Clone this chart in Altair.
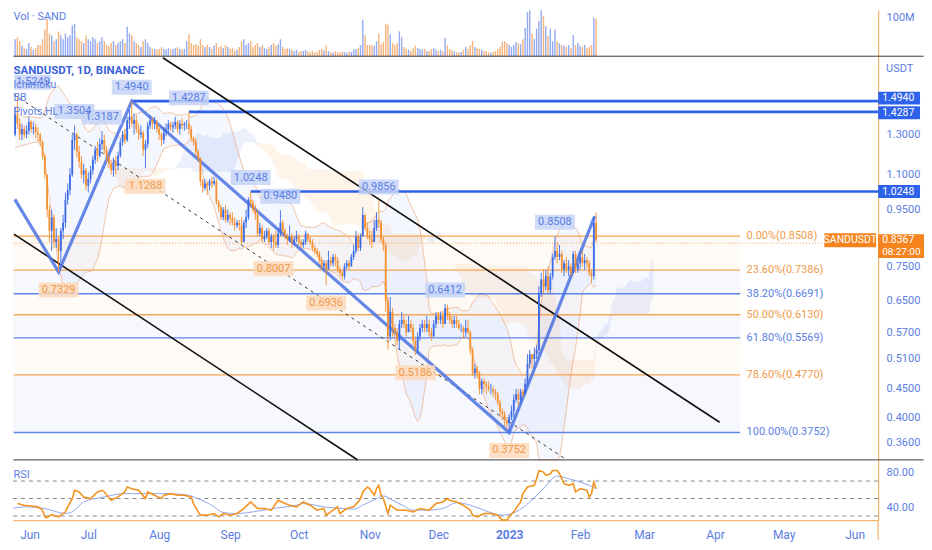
import altair as alt
import numpy as np
import pandas as pd

# ---------------- data ----------------
START = pd.Timestamp("2022-05-26")
FIRST_OPEN = 1.30

closes = [1.27,1.30,1.33,1.30,1.41,1.36,1.30,1.33,1.30,1.32,
 1.37,1.33,1.34,1.31,1.30,1.26,1.19,1.10,0.95,0.87,
 0.92,0.83,0.84,0.80,0.87,0.90,0.99,1.03,1.10,1.27,
 1.30,1.21,1.16,1.10,1.12,1.05,1.08,1.12,1.17,1.22,
 1.19,1.25,1.27,1.22,1.18,1.15,1.12,1.16,1.14,1.19,
 1.26,1.30,1.27,1.38,1.40,1.36,1.38,1.33,1.30,1.31,
 1.22,1.25,1.35,1.38,1.36,1.37,1.33,1.30,1.27,1.31,
 1.33,1.36,1.34,1.35,1.37,1.33,1.36,1.35,1.36,1.36,
 1.33,1.28,1.26,1.21,1.18,1.07,1.04,1.06,1.05,1.07,
 1.06,1.07,0.98,0.96,0.92,0.95,0.91,0.93,0.92,0.90,
 0.89,0.90,0.89,0.83,0.90,0.92,0.99,0.98,0.95,0.93,
 0.86,0.88,0.84,0.85,0.87,0.83,0.85,0.83,0.82,0.86,
 0.90,0.87,0.85,0.84,0.85,0.83,0.84,0.85,0.83,0.82,
 0.83,0.86,0.84,0.83,0.81,0.80,0.79,0.77,0.75,0.76,
 0.74,0.77,0.76,0.78,0.77,0.74,0.73,0.72,0.75,0.76,
 0.75,0.78,0.80,0.85,0.81,0.85,0.93,0.88,0.85,0.84,
 0.83,0.88,0.91,0.90,0.84,0.82,0.65,0.56,0.62,0.58,
 0.57,0.55,0.59,0.60,0.59,0.57,0.59,0.58,0.55,0.53,
 0.56,0.58,0.59,0.58,0.59,0.57,0.56,0.59,0.61,0.60,
 0.61,0.59,0.63,0.61,0.60,0.59,0.60,0.59,0.58,0.58,
 0.57,0.58,0.57,0.53,0.48,0.49,0.48,0.45,0.465,0.46,
 0.455,0.45,0.45,0.445,0.44,0.425,0.41,0.405,0.395,0.39,
 0.40,0.41,0.43,0.44,0.43,0.445,0.44,0.46,0.50,0.52,
 0.51,0.52,0.53,0.67,0.71,0.69,0.72,0.68,0.72,0.78,
 0.80,0.78,0.79,0.74,0.76,0.74,0.75,0.73,0.79,0.74,
 0.76,0.78,0.76,0.77,0.76,0.73,0.72,0.90,0.8367]

highs = [1.31,1.33,1.36,1.38,1.46,1.5249,1.39,1.36,1.35,1.35,
 1.40,1.38,1.37,1.36,1.34,1.31,1.27,1.20,1.10,0.97,
 0.95,0.93,0.88,0.85,0.88,0.93,1.02,1.06,1.13,1.30,
 1.3504,1.31,1.24,1.19,1.15,1.13,1.11,1.14,1.19,1.24,
 1.26,1.28,1.3187,1.30,1.24,1.19,1.17,1.18,1.19,1.21,
 1.28,1.32,1.33,1.40,1.44,1.494,1.42,1.41,1.36,1.35,
 1.32,1.27,1.37,1.41,1.40,1.40,1.38,1.35,1.31,1.34,
 1.36,1.38,1.37,1.37,1.40,1.38,1.38,1.39,1.37,1.38,
 1.4287,1.35,1.29,1.28,1.22,1.18,1.08,1.08,1.07,1.08,
 1.09,1.09,1.08,0.99,0.97,0.96,0.97,0.95,0.94,0.94,
 0.92,0.91,0.91,0.92,0.91,0.95,1.00,1.0248,0.99,0.97,
 0.95,0.90,0.89,0.87,0.88,0.88,0.86,0.86,0.87,0.88,
 0.948,0.91,0.88,0.86,0.89,0.86,0.85,0.87,0.86,0.84,
 0.84,0.87,0.86,0.85,0.84,0.82,0.81,0.80,0.78,0.77,
 0.77,0.80,0.78,0.79,0.79,0.78,0.75,0.74,0.76,0.77,
 0.77,0.79,0.82,0.87,0.86,0.86,0.96,0.93,0.90,0.87,
 0.87,0.91,0.94,0.9856,0.91,0.85,0.83,0.66,0.66,0.63,
 0.59,0.58,0.60,0.62,0.61,0.60,0.61,0.60,0.59,0.56,
 0.57,0.59,0.60,0.60,0.61,0.60,0.58,0.60,0.62,0.62,
 0.62,0.62,0.6412,0.64,0.62,0.61,0.61,0.61,0.60,0.59,
 0.585,0.60,0.60,0.575,0.535,0.50,0.495,0.485,0.47,0.47,
 0.465,0.465,0.46,0.455,0.45,0.445,0.43,0.415,0.41,0.40,
 0.405,0.42,0.44,0.45,0.45,0.45,0.45,0.47,0.52,0.53,
 0.52,0.535,0.54,0.69,0.73,0.74,0.74,0.75,0.73,0.79,
 0.8508,0.83,0.82,0.80,0.77,0.78,0.77,0.76,0.80,0.80,
 0.77,0.80,0.80,0.79,0.78,0.77,0.74,0.92,0.94]

lows = [1.22,1.24,1.28,1.27,1.29,1.33,1.27,1.27,1.28,1.28,
 1.30,1.31,1.30,1.28,1.26,1.24,1.17,1.08,0.92,0.83,
 0.80,0.81,0.81,0.7329,0.76,0.84,0.88,0.97,1.01,1.09,
 1.22,1.18,1.13,1.08,1.06,1.03,1.02,1.06,1.10,1.15,
 1.16,1.18,1.22,1.20,1.16,1.13,1.10,1.09,1.10,1.12,
 1.18,1.24,1.25,1.26,1.33,1.34,1.30,1.31,1.27,1.28,
 1.19,1.1288,1.23,1.33,1.33,1.33,1.31,1.27,1.24,1.25,
 1.29,1.31,1.32,1.31,1.33,1.31,1.30,1.33,1.32,1.33,
 1.30,1.26,1.24,1.19,1.16,1.05,1.02,1.03,1.01,1.03,
 1.04,1.05,0.97,0.94,0.91,0.91,0.90,0.90,0.89,0.89,
 0.87,0.88,0.87,0.82,0.83,0.88,0.91,0.96,0.94,0.91,
 0.85,0.85,0.83,0.83,0.84,0.82,0.81,0.8007,0.81,0.81,
 0.85,0.86,0.84,0.82,0.83,0.81,0.82,0.83,0.82,0.81,
 0.81,0.82,0.83,0.82,0.80,0.79,0.78,0.76,0.74,0.74,
 0.6936,0.76,0.75,0.75,0.75,0.73,0.72,0.71,0.71,0.74,
 0.74,0.75,0.77,0.79,0.80,0.80,0.85,0.87,0.84,0.82,
 0.81,0.83,0.87,0.88,0.83,0.80,0.62,0.53,0.55,0.56,
 0.56,0.54,0.53,0.58,0.58,0.56,0.57,0.57,0.54,0.5186,
 0.52,0.55,0.57,0.57,0.57,0.56,0.55,0.56,0.58,0.59,
 0.59,0.58,0.59,0.60,0.59,0.58,0.58,0.58,0.575,0.57,
 0.555,0.56,0.565,0.52,0.475,0.47,0.47,0.44,0.44,0.445,
 0.44,0.445,0.44,0.435,0.43,0.42,0.40,0.395,0.385,0.38,
 0.3752,0.395,0.40,0.425,0.42,0.425,0.435,0.44,0.455,0.49,
 0.49,0.49,0.51,0.52,0.66,0.67,0.68,0.67,0.67,0.71,
 0.77,0.76,0.77,0.73,0.72,0.73,0.72,0.72,0.73,0.73,
 0.73,0.74,0.75,0.74,0.745,0.72,0.70,0.71,0.83]

volumes_m = [110,30,35,25,45,50,40,28,22,20,
 35,25,18,22,30,30,45,70,97,60,
 55,40,45,65,55,45,60,50,55,80,
 84,50,45,40,35,55,45,40,50,45,
 35,40,50,40,30,28,35,40,30,35,
 40,45,35,77,60,55,40,35,30,25,
 40,45,35,25,20,20,18,20,25,20,
 18,22,18,20,22,25,20,18,20,40,
 58,35,30,32,28,45,30,25,30,25,
 20,28,35,25,28,22,30,25,20,22,
 15,18,25,40,45,30,35,40,25,30,
 35,25,30,22,20,25,30,35,28,32,
 45,25,20,22,20,18,15,18,12,14,
 15,18,14,12,15,10,12,18,20,16,
 28,15,12,10,14,12,10,14,12,10,
 14,12,18,20,22,30,95,55,30,30,
 30,28,40,60,32,38,85,82,58,35,
 30,35,65,50,25,20,18,15,22,28,
 22,20,18,20,15,14,20,22,18,15,
 18,14,48,30,20,16,14,12,10,12,
 18,25,20,30,40,25,22,20,18,15,
 14,12,10,12,15,20,25,38,40,35,
 30,25,30,38,35,32,45,74,115,120,
 60,46,72,92,125,105,79,54,72,40,
 70,40,35,30,28,25,30,22,55,30,
 35,28,25,30,22,25,30,100,97]

rsi_k = [0,3,5,8,11,14,16,17,18,20,23,26,27,29,30,32,34,37,40,42,
 43,46,49,52,53,55,58,61,62,65,68,69,72,75,78,81,82,84,85,88,
 91,93,95,98,101,104,107,110,113,116,119,122,124,127,130,133,136,139,140,142,
 145,146,149,152,154,155,156,158,159,161,162,163,164,165,167,168,171,175,178,181,
 185,188,191,193,194,197,200,203,204,206,209,212,215,217,219,220,222,223,225,226,
 228,231,232,233,235,236,238,239,241,242,244,246,248,249,251,254,255,256,257,258]
rsi_v = [38.5,43.4,44.2,42.3,41.5,40.4,36.6,29.0,28.2,31.6,29.0,34.7,40.4,49.9,59.4,57.5,51.8,49.9,57.5,59.4,
 57.5,48.0,51.8,57.5,63.2,61.3,59.4,49.9,57.5,53.7,49.9,53.7,55.6,53.7,53.7,51.8,44.2,34.7,30.9,30.9,
 32.8,29.0,32.8,30.9,32.8,38.5,46.1,38.5,38.5,36.6,48.0,44.2,42.3,40.4,46.1,42.3,36.6,38.5,30.9,34.7,
 40.4,32.8,38.5,40.4,46.1,49.9,57.5,63.2,61.3,53.7,61.3,65.1,53.7,49.9,32.8,42.3,36.6,36.6,34.7,38.5,
 36.6,44.2,46.1,49.9,48.0,46.1,42.3,36.6,30.9,29.0,32.8,32.8,30.9,25.2,25.2,29.0,34.7,38.5,46.1,55.6,
 63.2,65.1,72.7,82.2,80.3,76.5,78.4,82.2,82.2,78.4,67.0,65.1,67.0,57.5,61.3,59.4,51.8,55.6,68.9,61.3]
rsi_ma_k = [0,8,17,26,29,34,43,52,61,69,78,84,90,95,101,110,119,127,130,139,
 148,152,156,162,165,169,174,178,183,191,197,203,209,217,223,229,235,241,246,255,258]
rsi_ma_v = [36.6,40.4,38.5,32.8,34.7,46.1,51.8,55.6,55.6,55.6,54.5,49.9,42.3,33.9,32.8,35.5,39.3,42.3,44.2,40.4,
 38.5,37.7,42.3,49.9,53.0,48.0,41.5,36.6,36.6,38.5,45.3,42.3,36.6,30.9,34.7,46.1,61.3,75.7,72.7,65.1,61.3]
rsi_levels = [70, 50, 30]
rsi_ticks = [80, 40]

pivot_high_k = [5, 30, 42, 55, 80, 107, 120, 163, 192, 240]
pivot_high_p = [1.5249, 1.3504, 1.3187, 1.4940, 1.4287, 1.0248, 0.9480, 0.9856, 0.6412, 0.8508]
pivot_low_k = [23, 61, 117, 140, 179, 220]
pivot_low_p = [0.7329, 1.1288, 0.8007, 0.6936, 0.5186, 0.3752]

level_k = [55, 80, 107]
level_p = [1.4940, 1.4287, 1.0248]
level_tag_shift = [-3, 1, 0]

fib_pct = ["0.00%", "23.60%", "38.20%", "50.00%", "61.80%", "78.60%", "100.00%"]
fib_price = [0.8508, 0.7386, 0.6691, 0.6130, 0.5569, 0.4770, 0.3752]
fib_kind = ["o", "o", "b", "o", "b", "o", "b"]
fib_start_k = 3.4
fib_end_k = 321.0
fib_label_k = 323.8

zigzag_k = [3.9, 23, 55, 220, 257.4]
zigzag_p = [0.9919, 0.7329, 1.4940, 0.3752, 0.925]
chan_upper_k = [68.6, 312.0]
chan_upper_p = [1.79, 0.3916]
chan_lower_k = [3.5, 153.8]
chan_lower_p = [0.8583, 0.3345]
chan_mid_k = [3.5, 245.3]
chan_mid_p = [1.5354, 0.3345]

price_ticks = [1.3, 1.1, 0.95, 0.75, 0.65, 0.57, 0.51, 0.45, 0.40, 0.36]
last_price = 0.8367
countdown = "08:27:00"
x_range_k = [3.08, 381.3]
price_domain = [0.334, 1.798]
vol_domain = [0, 120.5]
rsi_domain = [25.13, 93.7]

# ---------------- style ----------------
W = 868
HV, HP, HR = 47, 405, 60
RIGHT = 46
FONT = "Roboto"
UP, DOWN = "#3b6ae6", "#f39030"
UP_V, DOWN_V = "#92aaf2", "#f6b27a"
FIB_O, FIB_B = "#f4a557", "#5f85e8"
TXT_B, TXT_O = "#5a7de3", "#ef9a4a"
TAG_B, TAG_O = "#2f62ea", "#f5841f"
AXIS_O = "#f6a34c"


def kd(k):
    return (START + pd.to_timedelta(np.asarray(k, dtype=float), unit="D")).round("s")


def rect_path(w, h, left=False):
    r = h / w
    if left:
        return f"M0,{-r:.4f}L2,{-r:.4f}L2,{r:.4f}L0,{r:.4f}Z"
    return f"M-1,{-r:.4f}L1,{-r:.4f}L1,{r:.4f}L-1,{r:.4f}Z"


def dt(ts):
    return alt.DateTime(year=ts.year, month=ts.month, date=ts.day,
                        hours=ts.hour, minutes=ts.minute, seconds=ts.second)


n = len(closes)
opens = [FIRST_OPEN] + closes[:-1]
df = pd.DataFrame({"date": kd(np.arange(n)), "open": opens, "close": closes,
                   "high": highs, "low": lows, "vol": volumes_m})
df["high"] = df[["high", "open", "close"]].max(axis=1)
df["low"] = df[["low", "open", "close"]].min(axis=1)
df["c"] = np.where(df["close"] >= df["open"], UP, DOWN)
df["cv"] = np.where(df["close"] >= df["open"], UP_V, DOWN_V)
df["vdraw"] = np.minimum(df["vol"], vol_domain[1] - 1)
x_lo, x_hi = kd(x_range_k)
cdf = df[df["date"] >= x_lo]          # candles inside the visible window

x_scale = alt.Scale(domain=[dt(x_lo), dt(x_hi)])
p_scale = alt.Scale(type="log", domain=price_domain, nice=False, zero=False)
v_scale = alt.Scale(domain=vol_domain, nice=False, zero=True)
r_scale = alt.Scale(domain=rsi_domain, nice=False, zero=False)

price_axis = alt.Axis(orient="right", values=price_ticks, format=".4f", title=None,
                      ticks=False, grid=False, domainColor=AXIS_O, labelColor=TXT_B,
                      labelFontSize=11, labelFont=FONT, labelPadding=8, labelOverlap=False)
vol_axis = alt.Axis(orient="right", values=[100], labelExpr="datum.value + 'M'", title=None,
                    ticks=False, grid=False, domainColor=AXIS_O, labelColor=TXT_B,
                    labelFontSize=11, labelFont=FONT, labelPadding=8)
rsi_axis = alt.Axis(orient="right", values=rsi_ticks, format=".2f", title=None, ticks=False,
                    grid=False, domainColor=AXIS_O, labelColor=TXT_B, labelFontSize=11,
                    labelFont=FONT, labelPadding=8)
FIRST_TICK = "year(datum.value) == 2022 && month(datum.value) == 5"
x_axis = alt.Axis(orient="bottom", tickCount={"interval": "month", "step": 1},
                  labelExpr="month(datum.value) == 0 ? timeFormat(datum.value, '%Y') : timeFormat(datum.value, '%b')",
                  labelFontWeight={"condition": {"test": "month(datum.value) == 0", "value": "bold"},
                                   "value": "normal"},
                  labelAlign={"condition": {"test": FIRST_TICK, "value": "left"}, "value": "center"},
                  ticks=False, grid=False, domainColor=AXIS_O, labelColor=TXT_B, labelFontSize=12,
                  labelFont=FONT, labelPadding=9, title=None, labelOverlap=False, labelFlush=False)


def X(f, axis=None):
    return alt.X(f, type="temporal", scale=x_scale, axis=axis)


def Y(f):
    return alt.Y(f, type="quantitative", scale=p_scale, axis=price_axis)


# ---------------- indicators derived from the candles ----------------
hi_s, lo_s = df["high"], df["low"]
conv = (hi_s.rolling(9, min_periods=1).max() + lo_s.rolling(9, min_periods=1).min()) / 2
basel = (hi_s.rolling(26, min_periods=1).max() + lo_s.rolling(26, min_periods=1).min()) / 2
span_a = (conv + basel) / 2
span_b = (hi_s.rolling(52, min_periods=1).max() + lo_s.rolling(52, min_periods=1).min()) / 2
cloud = pd.DataFrame({"date": kd(np.arange(n) + 25), "a": span_a.values, "b": span_b.values})
cloud["a2"] = np.where(cloud["a"] >= cloud["b"], cloud["b"], cloud["a"])
cloud["b2"] = np.where(cloud["b"] > cloud["a"], cloud["a"], cloud["b"])

lo_lim, hi_lim = price_domain[0] * 1.002, price_domain[1] * 0.995
mid = df["close"].rolling(20, min_periods=1).mean()
sd = df["close"].rolling(20, min_periods=1).std(ddof=0).fillna(0)
bb = pd.DataFrame({"date": df["date"],
                   "up": np.clip(mid + 2 * sd, lo_lim, hi_lim),
                   "lo": np.clip(mid - 2 * sd, lo_lim, hi_lim)})
bb = bb[bb["date"] >= x_lo]

# ---------------- tables for annotations ----------------
fib_start = kd([fib_start_k])[0]
fib_end = kd([fib_end_k])[0]
fib_lab = kd([fib_label_k])[0]
fib_df = pd.DataFrame({
    "start": [fib_start] * len(fib_price), "end": [fib_end] * len(fib_price),
    "lab": [fib_lab] * len(fib_price), "p": fib_price,
    "label": [f"{a}({b:.4f})" for a, b in zip(fib_pct, fib_price)],
    "col": [FIB_O if k == "o" else FIB_B for k in fib_kind],
    "tcol": [TXT_O if k == "o" else TXT_B for k in fib_kind],
})
band_df = pd.DataFrame({
    "start": [x_lo] * (len(fib_price) - 1), "end": [fib_end] * (len(fib_price) - 1),
    "top": fib_price[:-1], "bot": fib_price[1:],
    "col": [FIB_O if k == "o" else FIB_B for k in fib_kind[1:]],
})
lvl_df = pd.DataFrame({"start": kd(level_k), "end": [x_hi] * len(level_k), "p": level_p,
                       "label": [f"{p:.4f}" for p in level_p], "shift": level_tag_shift})
ph_all = pd.DataFrame({"date": kd(pivot_high_k), "p": pivot_high_p,
                       "label": [f"{p:.4f}" for p in pivot_high_p]})
edge = ph_all["date"] < kd([12])[0]          # labels that would run past the left edge
ph_df = ph_all[~edge]
ph_edge = ph_all[edge].assign(date=kd([3.6])[0])
pl_df = pd.DataFrame({"date": kd(pivot_low_k), "p": pivot_low_p,
                      "label": [f"{p:.4f}" for p in pivot_low_p]})
zz_df = pd.DataFrame({"date": kd(zigzag_k), "p": zigzag_p})
ch_df = pd.DataFrame({"date": list(kd(chan_upper_k)) + list(kd(chan_lower_k)),
                      "p": chan_upper_p + chan_lower_p,
                      "g": ["u", "u", "l", "l"]})
cm_df = pd.DataFrame({"date": kd(chan_mid_k), "p": chan_mid_p})
last_df = pd.DataFrame({"start": [fib_start], "end": [kd([357.5])[0]], "p": [last_price],
                        "label": [f"{last_price:.4f}"], "cd": [countdown], "tag": ["SANDUSDT"]})
one = pd.DataFrame({"a": [0]})


def header(text, y, size=10.5, weight="normal", color=TXT_B, x=0.5):
    return alt.Chart(one).mark_text(text=text, align="left", baseline="top", fontSize=size,
                                    fontWeight=weight, font=FONT, color=color).encode(
        x=alt.value(x), y=alt.value(y))


def separator(y):
    return alt.Chart(one).mark_rule(color="#3a3a3a", strokeWidth=1).encode(
        x=alt.value(0.5), x2=alt.value(W + RIGHT - 0.5), y=alt.value(y))


def level_tags(sub, shift):
    return [
        alt.Chart(sub).mark_point(shape=rect_path(42, 13), size=42 * 42, filled=True, color=TAG_B,
                                  opacity=1, yOffset=shift).encode(x=alt.value(W + 21), y=Y("p")),
        alt.Chart(sub).mark_text(align="left", baseline="middle", fontSize=10.5, font=FONT,
                                 color="white", yOffset=shift).encode(
            x=alt.value(W + 4), y=Y("p"), text="label"),
    ]


tag_layers = []
for s in sorted(set(level_tag_shift)):
    tag_layers += level_tags(lvl_df[lvl_df["shift"] == s], s)

layers = [
    alt.Chart(band_df).mark_rect(opacity=0.055).encode(
        x=X("start"), x2="end", y=Y("top"), y2="bot",
        color=alt.Color("col:N", scale=None)),
    alt.Chart(cloud).mark_area(color=UP, opacity=0.10).encode(
        x=X("date"), y=Y("a"), y2="a2"),
    alt.Chart(cloud).mark_area(color=DOWN, opacity=0.10).encode(
        x=X("date"), y=Y("b"), y2="b2"),
    alt.Chart(bb).mark_area(color=UP, opacity=0.05).encode(
        x=X("date"), y=Y("up"), y2="lo"),
    alt.Chart(bb).mark_line(color="#e9a070", opacity=0.75, strokeWidth=0.8).encode(
        x=X("date"), y=Y("up")),
    alt.Chart(bb).mark_line(color="#e9a070", opacity=0.75, strokeWidth=0.8).encode(
        x=X("date"), y=Y("lo")),
    alt.Chart(fib_df).mark_rule(strokeWidth=1.3).encode(
        x=X("start"), x2="end", y=Y("p"), color=alt.Color("col:N", scale=None)),
    alt.Chart(fib_df).mark_text(align="left", baseline="middle", fontSize=11, font=FONT).encode(
        x=X("lab"), y=Y("p"), text="label", color=alt.Color("tcol:N", scale=None)),
    alt.Chart(last_df).mark_rule(color=FIB_O, strokeDash=[1, 2], strokeWidth=1, yOffset=3).encode(
        x=X("start"), x2="end", y=Y("p")),
    alt.Chart(lvl_df).mark_rule(color=TAG_B, strokeWidth=2.6).encode(
        x=X("start"), x2="end", y=Y("p")),
    alt.Chart(ch_df).mark_line(color="#111111", strokeWidth=1.6).encode(
        x=X("date"), y=Y("p"), detail="g:N"),
    alt.Chart(cm_df).mark_line(color="#333333", strokeWidth=1, strokeDash=[3, 4]).encode(
        x=X("date"), y=Y("p")),
    alt.Chart(zz_df).mark_line(color="#4a72e3", strokeWidth=3.2, opacity=0.85).encode(
        x=X("date"), y=Y("p")),
    alt.Chart(cdf).mark_rule(strokeWidth=0.9).encode(
        x=X("date"), y=Y("low"), y2="high", color=alt.Color("c:N", scale=None)),
    alt.Chart(cdf).mark_rule(strokeWidth=1.8).encode(
        x=X("date"), y=Y("open"), y2="close", color=alt.Color("c:N", scale=None)),
    alt.Chart(ph_df).mark_point(shape=rect_path(40, 15), size=1600, filled=True, color="#c6d3f7",
                                opacity=0.85, yOffset=-14).encode(x=X("date"), y=Y("p")),
    alt.Chart(ph_df).mark_text(fontSize=11, font=FONT, color=TXT_B, yOffset=-14,
                               baseline="middle").encode(x=X("date"), y=Y("p"), text="label"),
    alt.Chart(ph_edge).mark_point(shape=rect_path(37, 15, left=True), size=37 * 37, filled=True,
                                  color="#c6d3f7", opacity=0.85, yOffset=-14).encode(
        x=X("date"), y=Y("p")),
    alt.Chart(ph_edge).mark_text(fontSize=11, font=FONT, color=TXT_B, yOffset=-14, align="left",
                                 xOffset=2, baseline="middle").encode(
        x=X("date"), y=Y("p"), text="label"),
    alt.Chart(pl_df).mark_point(shape=rect_path(40, 15), size=1600, filled=True, color="#fbd9bb",
                                opacity=0.85, yOffset=18).encode(x=X("date"), y=Y("p")),
    alt.Chart(pl_df).mark_text(fontSize=11, font=FONT, color=TXT_O, yOffset=18,
                               baseline="middle").encode(x=X("date"), y=Y("p"), text="label"),
    *tag_layers,
    alt.Chart(last_df).mark_point(shape=rect_path(46, 24), size=46 * 46, filled=True, color=TAG_O,
                                  opacity=1, yOffset=6).encode(x=alt.value(W + 23), y=Y("p")),
    alt.Chart(last_df).mark_text(align="left", baseline="middle", fontSize=10.5, font=FONT,
                                 color="white").encode(x=alt.value(W + 4), y=Y("p"), text="label"),
    alt.Chart(last_df).mark_text(align="left", baseline="middle", fontSize=10, font=FONT,
                                 color="white", yOffset=12).encode(x=alt.value(W + 4), y=Y("p"), text="cd"),
    alt.Chart(last_df).mark_point(shape=rect_path(52, 14), size=52 * 52, filled=True, color=TAG_O,
                                  opacity=1).encode(x=alt.value(W - 28), y=Y("p")),
    alt.Chart(last_df).mark_text(align="center", baseline="middle", fontSize=10.5, font=FONT,
                                 color="white").encode(x=alt.value(W - 28), y=Y("p"), text="tag"),
    # header texts
    header("SANDUSDT, 1D, BINANCE", 8, size=11.5, weight="bold", color="#3a63d8"),
    header("Ichimoku", 23),
    header("BB", 36),
    header("Pivots HL", 50),
    header("USDT", 6, size=11, x=W + 8),
    separator(HP - 0.5),
]
price_chart = alt.layer(*layers).properties(width=W, height=HP)

# ---------------- volume panel ----------------
vol_chart = alt.layer(
    alt.Chart(cdf).mark_rule(strokeWidth=1.4).encode(
        x=X("date"), y=alt.Y("vdraw:Q", scale=v_scale, axis=vol_axis), y2=alt.datum(0),
        color=alt.Color("cv:N", scale=None)),
    header("Vol · SAND", 1, size=11),
    separator(HV - 0.5),
).properties(width=W, height=HV)

# ---------------- RSI panel ----------------
rsi_df = pd.DataFrame({"date": kd(rsi_k), "v": rsi_v})
ma_df = pd.DataFrame({"date": kd(rsi_ma_k), "v": rsi_ma_v})
rsi_df = rsi_df[rsi_df["date"] >= x_lo]
ma_df = ma_df[ma_df["date"] >= kd([0])[0]]
lv_df = pd.DataFrame({"v": rsi_levels})


def RY(f):
    return alt.Y(f, type="quantitative", scale=r_scale, axis=rsi_axis)


rsi_chart = alt.layer(
    alt.Chart(lv_df).mark_rule(strokeDash=[4, 4], color="#8a8a8a", strokeWidth=1).encode(
        y=RY("v")),
    alt.Chart(ma_df).mark_line(color="#93a6ee", strokeWidth=1, interpolate="monotone",
                               clip=True).encode(x=X("date", x_axis), y=RY("v")),
    alt.Chart(rsi_df).mark_line(color="#f29320", strokeWidth=1.6).encode(
        x=X("date", x_axis), y=RY("v")),
    header("RSI", 9, size=11),
    alt.Chart(one).mark_rule(color=AXIS_O, strokeWidth=1).encode(
        x=alt.value(W), y=alt.value(HR), y2=alt.value(HR + 20)),
).properties(width=W, height=HR)

chart = alt.vconcat(vol_chart, price_chart, rsi_chart, spacing=0, bounds="flush").properties(
    padding=0, background="white").configure_view(stroke=None)

chart.save("out.html", embed_options={"renderer": "svg", "actions": False})
